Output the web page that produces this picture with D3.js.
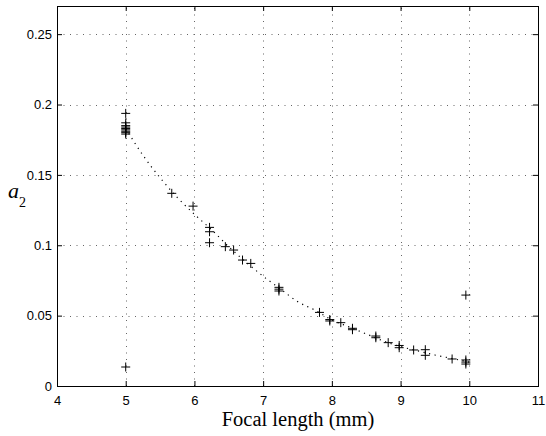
<!DOCTYPE html>
<html><head><meta charset="utf-8">
<script src="https://cdn.jsdelivr.net/npm/d3@7"></script>
<style>body{margin:0;background:#fff}svg{display:block}</style>
</head><body>
<script>
// Measured points (focal length mm, a2)
const focal = [5,5,5,5,5,5,5,5,5,5,5.67,5.98,6.22,6.22,6.22,6.45,6.57,6.70,6.82,7.23,7.23,7.23,7.82,7.97,7.97,8.13,8.30,8.30,8.64,8.64,8.82,8.98,8.98,9.19,9.36,9.36,9.75,9.95,9.95,9.95,9.95];
const a2    = [0.1937,0.187,0.185,0.184,0.183,0.182,0.181,0.180,0.179,0.0135,0.1369,0.1278,0.1127,0.1096,0.1018,0.0990,0.0966,0.0895,0.0871,0.0701,0.0688,0.0675,0.0523,0.0472,0.0462,0.0450,0.0410,0.0400,0.0355,0.0343,0.0308,0.0288,0.0272,0.0256,0.0258,0.0218,0.0192,0.0185,0.0170,0.0156,0.0646];
// Fitted curve
const fitX = [5.0,5.25,5.5,5.75,6.0,6.25,6.5,6.75,7.0,7.25,7.5,7.75,8.0,8.25,8.5,8.75,9.0,9.25,9.5,9.75,10.0];
const fitY = [0.183,0.164,0.148,0.134,0.122,0.111,0.099,0.088,0.078,0.069,0.060,0.054,0.047,0.042,0.037,0.032,0.028,0.025,0.022,0.0195,0.017];
const xTicks = [4,5,6,7,8,9,10,11];
const yTicks = [0,0.05,0.1,0.15,0.2,0.25];

const W=546,H=436;
const m={l:57,r:8,t:6,b:50};
const svg=d3.select("body").append("svg").attr("width",W).attr("height",H);
const x=d3.scaleLinear().domain([4,11]).range([m.l,W-m.r]);
const y=d3.scaleLinear().domain([0,0.27]).range([H-m.b,m.t]);
const x0=x(4),x1=x(11),y0=y(0),y1=y(0.27);

// grid
const g=svg.append("g").attr("stroke","#666").attr("stroke-width",1).attr("stroke-dasharray","1,5.5");
xTicks.slice(1,-1).forEach(t=>g.append("line").attr("x1",Math.round(x(t))+0.5).attr("x2",Math.round(x(t))+0.5).attr("y1",y0).attr("y2",y1));
yTicks.slice(1).forEach(t=>g.append("line").attr("y1",Math.round(y(t))+0.5).attr("y2",Math.round(y(t))+0.5).attr("x1",x0).attr("x2",x1));

// axes
const fmt=d=>d3.format("~g")(d);
const ax=svg.append("g").attr("transform",`translate(0,${y0})`).call(d3.axisBottom(x).tickValues(xTicks).tickSize(-5).tickPadding(10).tickFormat(fmt));
const axT=svg.append("g").attr("transform",`translate(0,${y1})`).call(d3.axisTop(x).tickValues(xTicks).tickSize(-5).tickFormat(""));
const ay=svg.append("g").attr("transform",`translate(${x0},0)`).call(d3.axisLeft(y).tickValues(yTicks).tickSize(-5).tickPadding(5).tickFormat(fmt));
const ayR=svg.append("g").attr("transform",`translate(${x1},0)`).call(d3.axisRight(y).tickValues(yTicks).tickSize(-5).tickFormat(""));
[ax,axT,ay,ayR].forEach(a=>{a.select(".domain").remove();a.selectAll("line").attr("stroke","#000");a.selectAll("text").attr("font-family","Liberation Sans, Arial, sans-serif").attr("font-size",13).attr("fill","#000");});
svg.append("rect").attr("x",x0+0.5).attr("y",y1+0.5).attr("width",x1-x0).attr("height",y0-y1).attr("fill","none").attr("stroke","#000").attr("stroke-width",1);

// fit curve
svg.append("path").datum(fitX.map((d,i)=>[d,fitY[i]]))
  .attr("d",d3.line().x(d=>x(d[0])).y(d=>y(d[1])).curve(d3.curveMonotoneX))
  .attr("fill","none").attr("stroke","#000").attr("stroke-width",1.2).attr("stroke-dasharray","1.2,4.5");

// markers
const s=4.5;
const mk=svg.append("g").attr("stroke","#000").attr("stroke-width",1);
focal.forEach((f,i)=>{
  const px=x(f),py=y(a2[i]);
  mk.append("line").attr("x1",px-s).attr("x2",px+s).attr("y1",py).attr("y2",py);
  mk.append("line").attr("x1",px).attr("x2",px).attr("y1",py-s).attr("y2",py+s);
});

// labels
svg.append("text").attr("x",298).attr("y",426).attr("text-anchor","middle")
  .attr("font-family","Liberation Serif, Times New Roman, serif").attr("font-size",20.5).text("Focal length (mm)");
const yl=svg.append("text").attr("x",8).attr("y",198).attr("font-family","Liberation Serif, Times New Roman, serif").attr("font-size",22);
yl.append("tspan").attr("font-style","italic").text("a");
yl.append("tspan").attr("font-size",14).attr("dy",9).attr("dx",0).text("2");
</script>
</body></html>
